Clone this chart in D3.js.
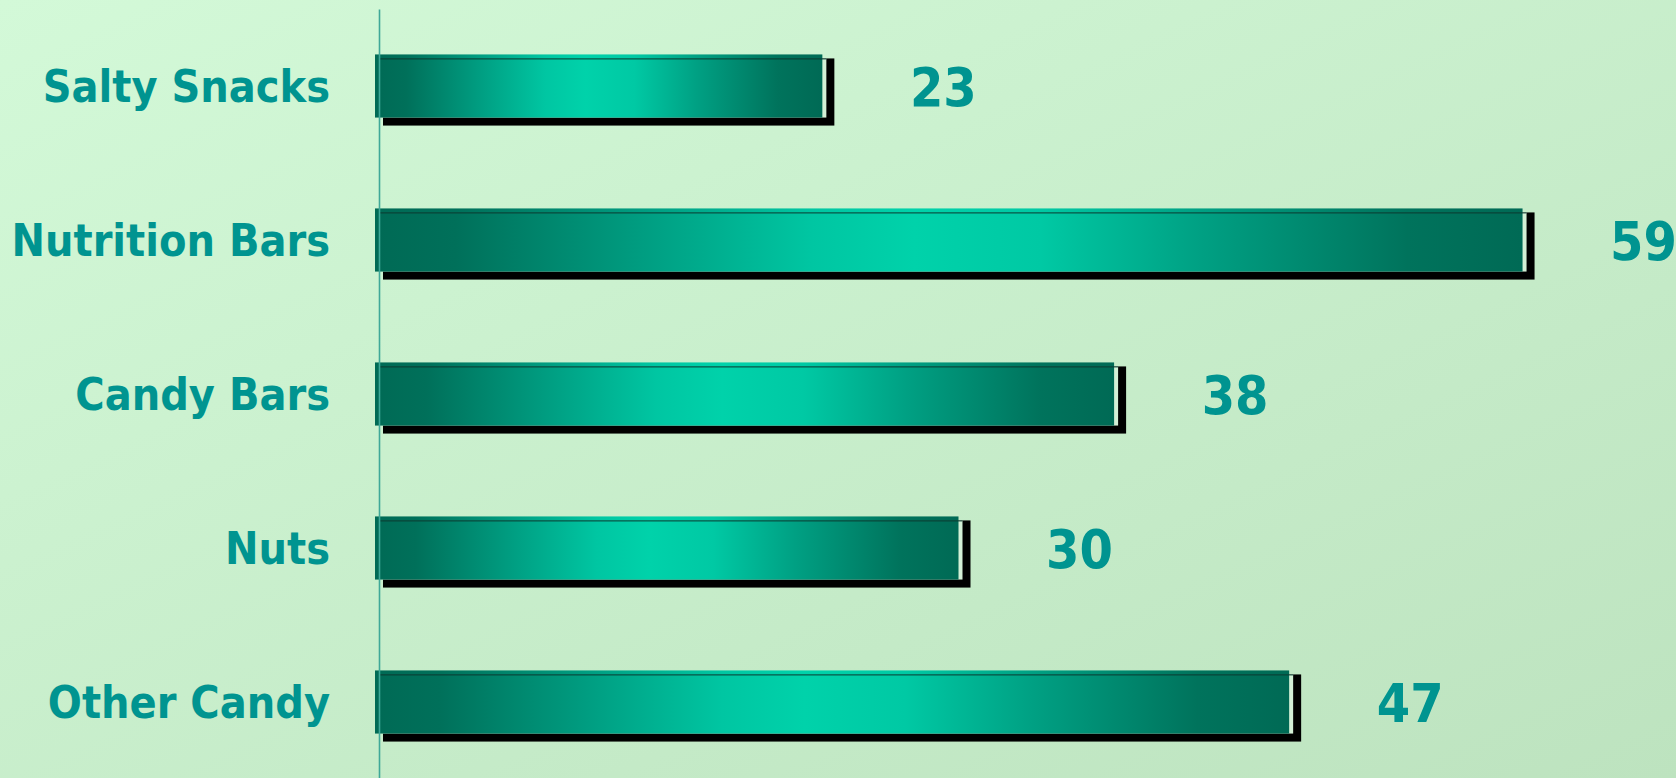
<!DOCTYPE html>
<html>
<head>
<meta charset="utf-8">
<script src="https://cdn.jsdelivr.net/npm/d3@7"></script>
<style>
  html, body { margin: 0; padding: 0; overflow: hidden; }
  svg { display: block; }
</style>
</head>
<body>
<svg id="chart" width="1676" height="778"></svg>
<script>
const categories = ["Salty Snacks", "Nutrition Bars", "Candy Bars", "Nuts", "Other Candy"];
const values = [23, 59, 38, 30, 47];
const valueLabels = ["23", "59", "38", "30", "47"];

const W = 1676, H = 778;
const SX = 0.89; // horizontal condensing to mimic Tahoma Bold
const FONT = "'DejaVu Sans', Verdana, sans-serif";
const svg = d3.select("#chart");
const defs = svg.append("defs");

const bg = defs.append("linearGradient").attr("id", "bg")
  .attr("x1", 0).attr("y1", 0).attr("x2", 1).attr("y2", 1);
bg.append("stop").attr("offset", "0%").attr("stop-color", "#d3f9d8");
bg.append("stop").attr("offset", "100%").attr("stop-color", "#bde3bf");

const bar = defs.append("linearGradient").attr("id", "barGrad")
  .attr("x1", 0).attr("y1", 0).attr("x2", 1).attr("y2", 0);
[["0%", "#006a55"], ["7%", "#00705a"], ["25%", "#00a285"], ["38%", "#00c6a2"],
 ["47%", "#00d2aa"], ["58%", "#00c9a4"], ["72%", "#00a083"], ["90%", "#00735c"], ["100%", "#006a55"]]
  .forEach(([o, c]) => bar.append("stop").attr("offset", o).attr("stop-color", c));

svg.append("rect").attr("width", W).attr("height", H).attr("fill", "url(#bg)");

const x = d3.scaleLinear().domain([0, 60]).range([375, 375 + 60 * 19.45]);
const y = d3.scaleBand().domain(categories).range([9, 779]).paddingInner(0.59).paddingOuter(0.295);

const data = categories.map((c, i) => ({ c, v: values[i], label: valueLabels[i] }));

const g = svg.append("g");
const bars = g.selectAll("g.bar").data(data).enter().append("g").attr("class", "bar");

// black shadow
bars.append("rect")
  .attr("x", d => x(0) + 8)
  .attr("y", d => y(d.c) + 4)
  .attr("width", d => x(d.v) - x(0) + 4)
  .attr("height", y.bandwidth() + 4)
  .attr("fill", "#000");

// light inner plate
bars.append("rect")
  .attr("x", d => x(0) + 4)
  .attr("y", d => y(d.c) + 4)
  .attr("width", d => x(d.v) - x(0))
  .attr("height", y.bandwidth() - 4)
  .attr("fill", "#d3f0d6");

// front bar
bars.append("rect")
  .attr("x", d => x(0))
  .attr("y", d => y(d.c))
  .attr("width", d => x(d.v) - x(0))
  .attr("height", y.bandwidth())
  .attr("fill", "url(#barGrad)");

// dark top edge line
bars.append("line")
  .attr("x1", d => x(0) + 4)
  .attr("x2", d => x(d.v) + 4)
  .attr("y1", d => y(d.c) + 4.5)
  .attr("y2", d => y(d.c) + 4.5)
  .attr("stroke", "#0b3a30")
  .attr("stroke-opacity", 0.8)
  .attr("stroke-width", 1.3);

// value labels
bars.append("text")
  .attr("transform", d => `translate(${x(d.v) + 121},${y(d.c) + y.bandwidth() / 2 + 0.364 * 54}) scale(${SX},1)`)
  .attr("text-anchor", "middle")
  .attr("font-family", FONT)
  .attr("font-weight", "bold")
  .attr("font-size", 54)
  .attr("fill", "#009490")
  .text(d => d.label);

// category axis
const axis = d3.axisLeft(y).tickSize(0).tickPadding(0);
const ag = svg.append("g").attr("transform", "translate(379,0)").call(axis);
ag.select(".domain").attr("stroke", "#3fa898").attr("stroke-width", 1.6);
ag.selectAll(".tick text")
  .attr("font-family", FONT)
  .attr("font-weight", "bold")
  .attr("font-size", 45)
  .attr("fill", "#009490")
  .attr("dy", null)
  .attr("x", null)
  .attr("y", null)
  .attr("transform", `translate(-49,${0.364 * 45}) scale(${SX},1)`);
</script>
</body>
</html>
